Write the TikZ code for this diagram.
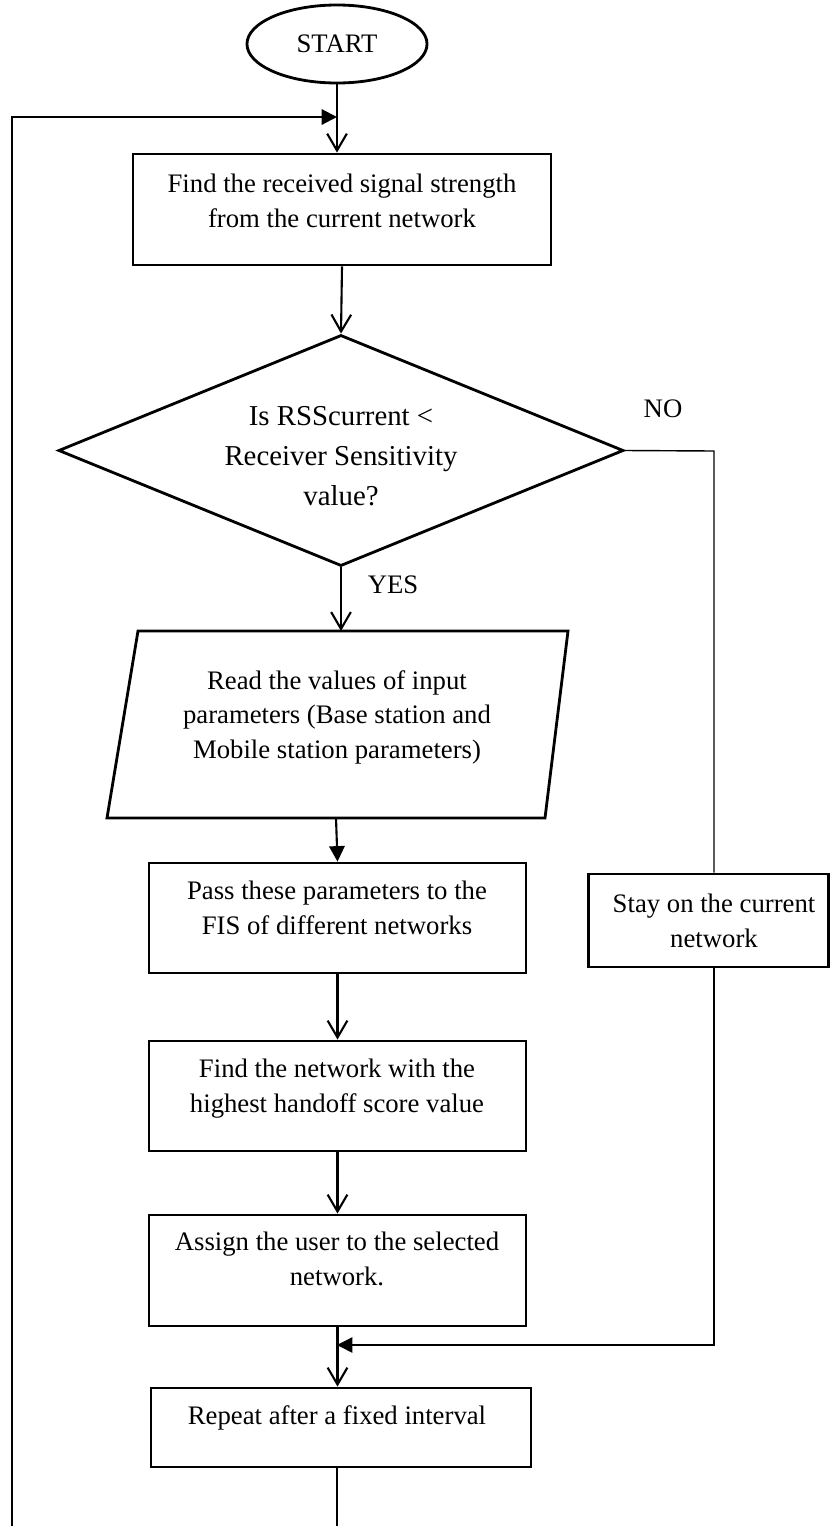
\documentclass[tikz,border=0pt]{standalone}
\usepackage{fontspec}
\setmainfont{Liberation Serif}
\usetikzlibrary{shapes.geometric,arrows.meta}

\begin{document}
\begin{tikzpicture}[x=0.025cm,y=-0.025cm,
    every node/.style={font=\fontsize{19pt}{24.8pt}\selectfont},
    procbox/.style={draw,rectangle,line width=2pt,minimum width=9.425cm,minimum height=2.75cm,inner sep=0pt},
    txt/.style={align=center,anchor=north,inner sep=0pt},
    flow/.style={line width=1.5pt,-{Straight Barb[length=12pt,width=14pt]}},
    flowin/.style={line width=1.5pt,-{Triangle[length=11pt,width=11pt]}},
    thin line/.style={line width=1pt}]
    \useasboundingbox (0,0) rectangle (831,1526);

    % Start and first box
    \node[draw,ellipse,line width=2pt,minimum width=4.5cm,minimum height=1.95cm,inner sep=0pt] (start) at (337,44) {START};
    \node[procbox,minimum width=10.45cm,minimum height=2.775cm] (rss) at (342,209.5) {};
    \node[txt] (rsstxt) at (342,174) {Find the received signal strength\\from the current network};

    % Decision
    \node[draw,diamond,line width=2pt,minimum width=14.125cm,minimum height=5.775cm,inner sep=0pt] (dec) at (341,450.5) {};
    \node[txt,font=\fontsize{20.5pt}{28.4pt}\selectfont] (dectxt) at (341,406) {Is RSScurrent <\\Receiver Sensitivity\\value?};
    \node (yes) at (393,585) {YES};
    \node (no) at (663,409) {NO};

    % Input parallelogram
    \coordinate (rdA) at (138,631);
    \coordinate (rdB) at (568,631);
    \coordinate (rdC) at (545,818);
    \coordinate (rdD) at (107,818);
    \draw[line width=2pt] (rdA) -- (rdB) -- (rdC) -- (rdD) -- cycle;
    \coordinate (rdtop) at (337,631);
    \coordinate (rdbot) at (336,818);
    \node[txt] (readtxt) at (337,670) {Read the values of input\\parameters (Base station and\\Mobile station parameters)};

    % Process boxes
    \node[procbox] (pass) at (337.5,918) {};
    \node[txt] (passtxt) at (337,881) {Pass these parameters to the\\FIS of different networks};
    \node[procbox] (best) at (337.5,1096) {};
    \node[txt] (besttxt) at (337,1059) {Find the network with the\\highest handoff score value};
    \node[procbox,minimum height=2.775cm] (assign) at (337.5,1270.5) {};
    \node[txt] (assigntxt) at (337,1232) {Assign the user to the selected\\network.};
    \node[procbox,minimum width=9.5cm,minimum height=1.975cm] (rep) at (341,1427.5) {};
    \node[txt] (reptxt) at (337,1405) {Repeat after a fixed interval};
    \node[procbox,minimum width=6cm,minimum height=2.325cm] (stay) at (708.5,920.5) {};
    \node[txt] (staytxt) at (714,894) {Stay on the current\\network};

    % Connectors
    \coordinate (top) at (337,117);
    \coordinate (merge) at (337,1345);
    \coordinate (nocorner) at (714,451);
    \coordinate (loopL) at (12,1530);
    \coordinate (loopR) at (337,1530);

    \draw[flow] (start) -- (start |- rss.north);
    \draw[flow] (rss.south) -- (dec.north);
    \draw[flow] (dec.south) -- (dec.south |- rdtop);
    \draw[flowin] (rdbot) -- (pass.north);
    \draw[flow] (pass) -- (best);
    \draw[flow] (best) -- (assign);
    \draw[flow] (assign) -- (assign |- rep.north);
    \draw[thin line] (dec.east) -- (nocorner) -- (nocorner |- stay.north);
    \draw[flowin,thin line] (nocorner |- stay.south) |- (merge);
    \draw[flowin] (loopL) |- (top);
    \draw[line width=1.5pt] (loopR |- rep.south) -- (loopR);
\end{tikzpicture}
\end{document}
